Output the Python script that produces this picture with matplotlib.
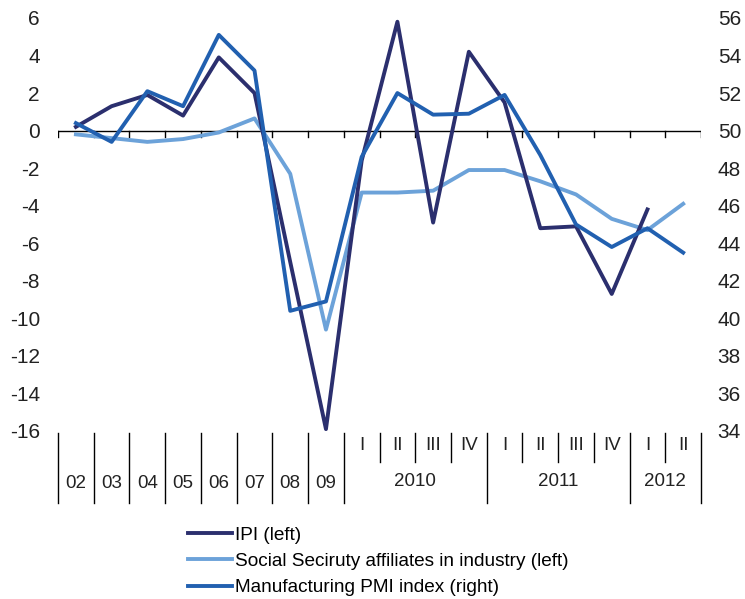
import numpy as np
import matplotlib
matplotlib.use("Agg")
import matplotlib.pyplot as plt

plt.rcParams['font.family'] = ['Liberation Sans', 'DejaVu Sans']
plt.rcParams['axes.unicode_minus'] = False

# categories: annual 2002-2009, then quarters 2010 I - 2012 II
cat_labels = ['02', '03', '04', '05', '06', '07', '08', '09',
              'I', 'II', 'III', 'IV', 'I', 'II', 'III', 'IV', 'I', 'II']
year_groups = ['2010', '2011', '2012']
year_spans = [(8, 11), (12, 15), (16, 17)]

ipi = [0.2, 1.3, 1.9, 0.8, 3.9, 2.0, -7.0, -15.9,
       -1.6, 5.8, -4.9, 4.2, 1.5, -5.2, -5.1, -8.7, -4.2, np.nan]
affiliates = [-0.2, -0.4, -0.6, -0.45, -0.1, 0.65, -2.3, -10.6,
              -3.3, -3.3, -3.2, -2.1, -2.1, -2.7, -3.4, -4.7, -5.3, -3.9]
pmi = [50.4, 49.4, 52.1, 51.3, 55.1, 53.2, 40.4, 40.9,
       48.6, 52.0, 50.85, 50.9, 51.9, 48.7, 45.0, 43.8, 44.8, 43.5]

c_ipi = '#2B2F6E'
c_aff = '#6CA2D9'
c_pmi = '#2160B0'

fig = plt.figure(figsize=(7.45, 5.99), dpi=100)
ax = fig.add_axes([0.0779, 0.2805, 0.8631, 0.6895])
ax2 = ax.twinx()

x = np.arange(len(cat_labels))
l1, = ax.plot(x, ipi, color=c_ipi, lw=2.8, label='IPI (left)', zorder=3)
l2, = ax.plot(x, affiliates, color=c_aff, lw=2.8,
              label='Social Seciruty affiliates in industry (left)', zorder=2)
l3, = ax2.plot(x, pmi, color=c_pmi, lw=2.8, label='Manufacturing PMI index (right)', zorder=4)

ax.set_xlim(-0.5, len(cat_labels) - 0.5)
ax.set_ylim(-16, 6)
ax2.set_ylim(34, 56)
ax.set_yticks(np.arange(-16, 7, 2))
ax2.set_yticks(np.arange(34, 57, 2))
for a in (ax, ax2):
    for s in a.spines.values():
        s.set_visible(False)
    a.set_xticks([])
ax.tick_params(axis='y', length=0, labelsize=15, pad=13, colors='#222222')
ax2.tick_params(axis='y', length=0, labelsize=15, pad=12, colors='#222222')
ax2.set_zorder(ax.get_zorder() + 1)
ax2.patch.set_visible(False)

# zero line with small ticks at category boundaries
bounds = np.arange(-0.5, len(cat_labels), 1.0)
ax.axhline(0, color='black', lw=1.0, zorder=1)
for b in bounds:
    ax.plot([b, b], [0, -0.32], color='black', lw=1.0, zorder=1)

# category axis below the plot
tr = ax.get_xaxis_transform()
long_bounds = list(np.arange(-0.5, 8.0, 1.0)) + [11.5, 15.5, 17.5]
for b in bounds:
    y_end = -0.174 if b in long_bounds else -0.075
    ax.plot([b, b], [-0.005, y_end], color='black', lw=1.0, transform=tr, clip_on=False)
for i, lab in enumerate(cat_labels):
    if i < 8:
        ax.text(i, -0.126, lab, transform=tr, ha='center', va='center', fontsize=13.5, color='#222222')
    else:
        ax.text(i, -0.036, lab, transform=tr, ha='center', va='center', fontsize=13.5, color='#222222')
for lab, (a, b) in zip(year_groups, year_spans):
    ax.text((a + b) / 2, -0.123, lab, transform=tr, ha='center', va='center', fontsize=13.5, color='#222222')

fig.legend(handles=[l1, l2, l3], loc='upper left', bbox_to_anchor=(0.252, 0.121),
           frameon=False, fontsize=13.7, handlelength=2.3, handletextpad=0.2,
           labelspacing=0.47, borderpad=0, borderaxespad=0)

fig.savefig('out.png', dpi=100)
